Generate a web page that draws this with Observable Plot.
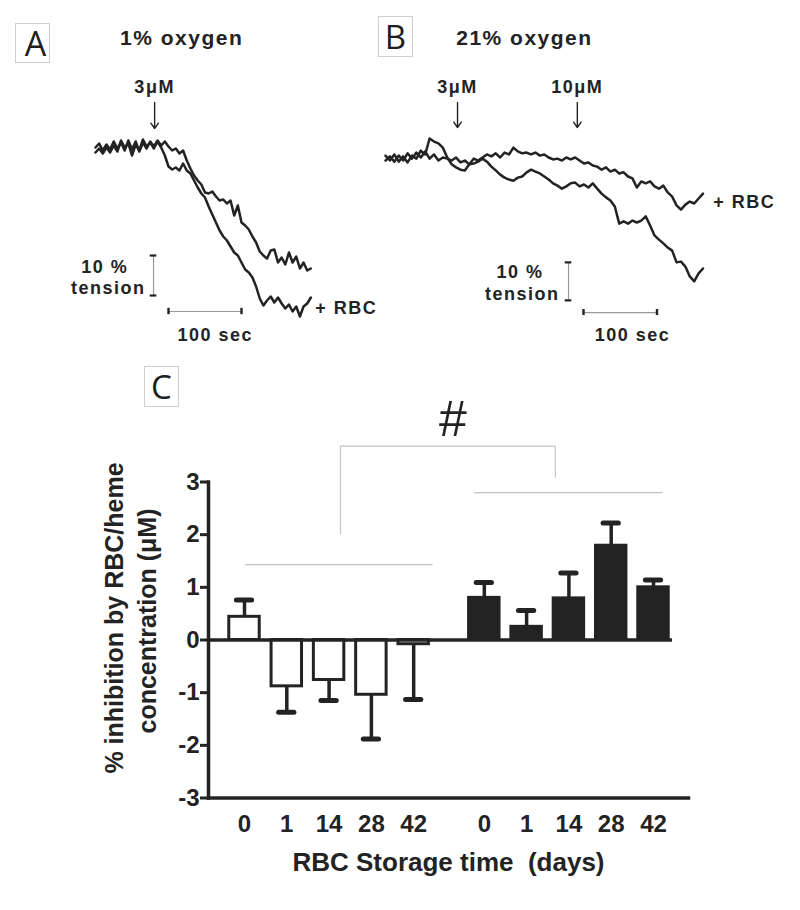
<!DOCTYPE html>
<html>
<head>
<meta charset="utf-8">
<script src="https://cdn.jsdelivr.net/npm/d3@7"></script>
<script src="https://cdn.jsdelivr.net/npm/@observablehq/plot@0.6"></script>
<style>
  body { margin: 0; background: #fff; }
  #root { position: relative; width: 800px; height: 910px; overflow: hidden; background: #fff; }
  .panel { position: absolute; }
  .panel svg { overflow: visible; }
  #pA text, #pB text { letter-spacing: 1.5px; }
  .lbl { position: absolute; border: 1px solid #cfcfcf; box-sizing: border-box;
         font-family: "Open Sans", sans-serif; color: #1e1e1e; text-align: center; }
</style>
</head>
<body>
<div id="root"></div>
<script>
// ---------------- DATA ----------------
// Panel A (1% oxygen): time (s), tension (% of initial)
const traceA_control = [[0,99.5],[5,100.5],[10,98.75],[15,100.25],[20,99],[25,101],[30,99.25],[35,100.75],[40,98.75],[45,101.25],[50,99],[55,101],[60,98.5],[65,100.75],[70,99.25],[75,101],[80,99.75],[85,101.25],[90,100],[95,101],[100,99.75],[105,98.75],[110,99.25],[115,98],[120,98.75],[125,96.25],[130,94.25],[135,92.5],[140,91.25],[145,90.25],[150,88.25],[155,88],[160,88.5],[165,87.25],[170,86.25],[175,86.5],[180,85.5],[185,86.25],[190,82.5],[195,85],[200,80.75],[205,80],[210,79],[215,77.25],[220,75.75],[225,73.5],[230,72.5],[235,71.75],[240,73.75],[245,74],[250,70.75],[255,72],[260,70.25],[265,73.25],[270,70.75],[275,72.25],[280,69.25],[285,70.75],[290,68.75],[295,69.25]];
const traceA_rbc = [[0,98.25],[5,99.25],[10,98],[15,99.5],[20,98.25],[25,100],[30,98.5],[35,101.25],[40,99.5],[45,100.5],[50,97.5],[55,100.25],[60,98.75],[65,101.5],[70,99.75],[75,100.75],[80,99.25],[85,101],[90,99.5],[95,97.5],[100,94.75],[105,94],[110,94.5],[115,93.75],[120,95.5],[125,93.75],[130,93],[135,91.25],[140,89.5],[145,88],[150,87],[155,84.75],[160,82.75],[165,80.75],[170,78.75],[175,77.25],[180,76.25],[185,74.75],[190,73.25],[195,72.5],[200,70.75],[205,69],[210,68.25],[215,67],[220,64.75],[225,61.75],[230,60],[235,61.25],[240,62.25],[245,60.75],[250,62],[255,60.5],[260,59.25],[265,60.25],[270,58.5],[275,59.75],[280,57.25],[285,59.75],[290,60.5],[295,62]];

// Panel B (21% oxygen)
const timeB = [0,6,12,18,24,30,36,42,48,54,60,66,72,78,84,90,96,102,108,114,120,126,132,138,144,150,156,162,168,174,180,186,192,198,204,210,216,222,228,234,240,246,252,258,264,270,276,282,288,294,300,306,312,318,324,330,336,342,348,354,360,366,372,378,384,390,396,402,408,414,420,426,432];
const tensionB_control = [100.5,99.2,100.8,98.9,100.3,98.7,100.5,99.7,101.8,100.8,105,104.2,103.7,102.6,100,98.2,97.4,96.8,96.6,98.2,98.4,98.9,99.7,98.9,97.6,96.6,95.5,94.7,94.2,93.9,94.7,95,96.1,96.8,96.3,95.8,95,94.2,93.2,92.6,91.8,92.4,93.2,93.4,92.4,92.9,92.1,93.2,91.8,90.5,89.5,88.7,87.1,82.6,83.2,82.6,83.4,82.9,83.4,84.5,82.1,79.5,78.4,77.4,76.3,75.5,72.4,72.6,71.3,68.7,67.4,69.5,70.8];
const tensionB_rbc = [99.2,100.3,98.9,100.5,99.2,101.1,99.7,101.3,100,101.6,99.7,100.8,99.2,100,99.7,99.2,100,98.7,99.2,98.2,99.7,99.2,100,100.8,100.3,101.1,100,101.3,100.8,102.6,101.6,101.1,101.3,100.8,101.3,100.5,100.8,100,99.5,99.7,99.2,100,99.5,100,99.2,98.4,98.7,97.9,97.6,96.8,97.4,96.3,96.8,95.8,96.1,95,94.5,92.1,93.7,93.2,93.7,92.4,91.8,92.6,90.8,89.7,87.4,86.3,87.6,88.4,87.9,89.2,90.5];

// Dose additions (time of addition, s)
const dosesA = [{label: "3μM", time: 81}];
const dosesB = [{label: "3μM", time: 98}, {label: "10μM", time: 261}];

// Panel C: % inhibition by RBC/heme concentration (μM), mean and SEM
const storageDays = ["0", "1", "14", "28", "42"];
const meansOpen = [0.44, -0.88, -0.76, -1.04, -0.08];
const semOpen = [0.32, 0.49, 0.39, 0.84, 1.05];
const meansFilled = [0.80, 0.25, 0.79, 1.79, 1.00];
const semFilled = [0.29, 0.31, 0.48, 0.43, 0.14];
const yTicksC = [-3, -2, -1, 0, 1, 2, 3];

// ---------------- STYLE ----------------
const ink = "#232323";
const FONT = "'Liberation Sans', Arial, sans-serif";
const root = document.getElementById("root");

function addPanel(id, left, top, svg) {
  const d = document.createElement("div");
  d.className = "panel"; d.id = id;
  d.style.left = left + "px"; d.style.top = top + "px";
  d.appendChild(svg); root.appendChild(d);
}
function addLabel(txt, left, top, w, h, fs, padLeft) {
  const d = document.createElement("div");
  d.className = "lbl"; d.textContent = txt;
  Object.assign(d.style, {left: left + "px", top: top + "px", width: w + "px", height: h + "px",
    fontSize: fs + "px", lineHeight: (h - 2) + "px", paddingLeft: (padLeft || 0) + "px"});
  root.appendChild(d);
}
const txt = (o) => Object.assign({fontFamily: FONT, fontWeight: "bold", fill: ink, fontSize: 18, lineAnchor: "middle"}, o);

// ---------------- PANEL A ----------------
const rowsA = [
  ...traceA_control.map(([t, v]) => ({t, v, s: "control"})),
  ...traceA_rbc.map(([t, v]) => ({t, v, s: "rbc"}))
];
const plotA = Plot.plot({
  width: 400, height: 360, margin: 0,
  x: {domain: [0, 300], range: [95, 314], axis: null},
  y: {domain: [50, 100], range: [345, 145], axis: null},
  marks: [
    Plot.line(rowsA, {x: "t", y: "v", z: "s", stroke: ink, strokeWidth: 2.5, strokeLinejoin: "round"}),
    Plot.text(["1% oxygen"], txt({x: () => 118, y: () => 126.75, text: d => d, fontSize: 21})),
    Plot.text(dosesA, txt({x: "time", y: () => 114.5, text: "label"})),
    Plot.arrow(dosesA, {x1: "time", x2: "time", y1: () => 110.75, y2: () => 104.25, stroke: ink, strokeWidth: 1.4, headLength: 7, headAngle: 70}),
    Plot.ruleX([79.5], {y1: 62.5, y2: 72.5, stroke: "#999", strokeWidth: 1.2}),
    Plot.ruleY([62.5, 72.5], {x1: 75, x2: 84, stroke: ink, strokeWidth: 2.2}),
    Plot.ruleY([58.5], {x1: 100, x2: 200, stroke: "#999", strokeWidth: 1.2}),
    Plot.ruleX([100, 200], {y1: 57.7, y2: 59.3, stroke: ink, strokeWidth: 2.4}),
    Plot.text(["10 %"], txt({x: () => 45, y: () => 69.5, text: d => d, textAnchor: "end"})),
    Plot.text(["tension"], txt({x: () => 68.5, y: () => 64.25, text: d => d, textAnchor: "end"})),
    Plot.text(["100 sec"], txt({x: () => 164, y: () => 52.5, text: d => d})),
    Plot.text(["+ RBC"], txt({x: () => 301, y: () => 59.25, text: d => d, textAnchor: "start"}))
  ]
});
addPanel("pA", 0, 0, plotA);

// ---------------- PANEL B ----------------
const rowsB = [
  ...timeB.map((t, i) => ({t, v: tensionB_control[i], s: "control"})),
  ...timeB.map((t, i) => ({t, v: tensionB_rbc[i], s: "rbc"}))
];
const plotB = Plot.plot({
  width: 430, height: 360, margin: 0,
  x: {domain: [0, 440], range: [15, 338.4], axis: null},
  y: {domain: [50, 100], range: [347, 157], axis: null},
  marks: [
    Plot.line(rowsB, {x: "t", y: "v", z: "s", stroke: ink, strokeWidth: 2.5, strokeLinejoin: "round"}),
    Plot.text(["21% oxygen"], txt({x: () => 189, y: () => 131.3, text: d => d, fontSize: 21})),
    Plot.text(dosesB, txt({x: "time", y: () => 118.4, text: "label"})),
    Plot.arrow(dosesB, {x1: "time", x2: "time", y1: () => 114.5, y2: () => 107.9, stroke: ink, strokeWidth: 1.4, headLength: 7, headAngle: 70}),
    Plot.ruleX([249], {y1: 62.4, y2: 72.4, stroke: "#999", strokeWidth: 1.2}),
    Plot.ruleY([62.4, 72.4], {x1: 244.5, x2: 253.5, stroke: ink, strokeWidth: 2.2}),
    Plot.ruleY([59.2], {x1: 269.4, x2: 369.4, stroke: "#999", strokeWidth: 1.2}),
    Plot.ruleX([269.4, 369.4], {y1: 58.4, y2: 60, stroke: ink, strokeWidth: 2.4}),
    Plot.text(["10 %"], txt({x: () => 215, y: () => 69.7, text: d => d, textAnchor: "end"})),
    Plot.text(["tension"], txt({x: () => 236.7, y: () => 63.9, text: d => d, textAnchor: "end"})),
    Plot.text(["100 sec"], txt({x: () => 336, y: () => 53.2, text: d => d})),
    Plot.text(["+ RBC"], txt({x: () => 446, y: () => 88.2, text: d => d, textAnchor: "start"}))
  ]
});
addPanel("pB", 370, 0, plotB);

// ---------------- PANEL C ----------------
const groupGap = 5.67;
const bars = [];
storageDays.forEach((day, i) => bars.push({group: 0, day, pos: i, mean: meansOpen[i], sem: semOpen[i]}));
storageDays.forEach((day, i) => bars.push({group: 1, day, pos: i + groupGap, mean: meansFilled[i], sem: semFilled[i]}));
bars.forEach(b => { b.end = b.mean + (b.mean >= 0.05 ? 1 : -1) * b.sem; });
const halfW = 0.36, capW = 0.18;
const groupBrackets = [{x1: 0.02, x2: 4.46, y: 1.43}, {x1: 5.44, x2: 9.9, y: 2.8}];
const sigBracket = [{x: 2.27, y: 2.02}, {x: 2.27, y: 3.68}, {x: 7.35, y: 3.68}, {x: 7.35, y: 3.09}];

const plotC = Plot.plot({
  width: 800, height: 550,
  marginLeft: 208, marginRight: 112, marginTop: 121.5, marginBottom: 112.5,
  x: {domain: [0, 9.67], range: [244, 653], axis: null},
  y: {domain: [-3, 3], axis: null},
  style: {fontFamily: FONT, fontWeight: "bold", fontSize: "24px", color: ink, background: "transparent"},
  marks: [
    Plot.ruleY(groupBrackets, {y: "y", x1: "x1", x2: "x2", stroke: "#c4c4c4", strokeWidth: 1.2}),
    Plot.line(sigBracket, {x: "x", y: "y", stroke: "#c4c4c4", strokeWidth: 1.2}),
    Plot.text(["#"], {x: () => (2.27 + 7.35) / 2, y: () => 4.17, text: d => d, dx: 5, fontSize: 50, fontWeight: "normal", fontFamily: FONT, fill: ink, lineAnchor: "middle"}),
    Plot.ruleX(bars, {x: "pos", y1: "mean", y2: "end", stroke: ink, strokeWidth: 3.5}),
    Plot.ruleY(bars, {y: "end", x1: d => d.pos - capW, x2: d => d.pos + capW, stroke: ink, strokeWidth: 5, strokeLinecap: "round"}),
    Plot.rect(bars, {x1: d => d.pos - halfW, x2: d => d.pos + halfW, y1: () => 0, y2: "mean",
      fill: d => d.group ? ink : "#fff", stroke: ink, strokeWidth: 3}),
    Plot.ruleY([0], {x1: () => -0.85, x2: () => 10.12, stroke: ink, strokeWidth: 3.5}),
    Plot.frame({anchor: "left", stroke: ink, strokeWidth: 3.5}),
    Plot.frame({anchor: "bottom", stroke: ink, strokeWidth: 3.5}),
    Plot.axisY({ticks: yTicksC, tickFormat: d => String(d), tickSize: 8, tickPadding: 1, strokeWidth: 3, stroke: ink, label: null, fill: ink}),
    Plot.text(bars, {x: "pos", y: () => -3, text: "day", dy: 26, lineAnchor: "middle", fill: ink}),
    Plot.text(["RBC Storage time  (days)"], {frameAnchor: "bottom", text: d => d, dy: 64.5, fontSize: 26, lineAnchor: "middle", textAnchor: "middle", fill: ink}),
    Plot.text(["% inhibition by RBC/heme"], {frameAnchor: "left", text: d => d, rotate: -90, dx: -94, dy: -22, fontSize: 25, lineAnchor: "middle", textAnchor: "middle", fill: ink}),
    Plot.text(["concentration (μM)"], {frameAnchor: "left", text: d => d, rotate: -90, dx: -61, dy: -19, fontSize: 25, lineAnchor: "middle", textAnchor: "middle", fill: ink})
  ]
});
addPanel("pC", 0, 360, plotC);

// panel letters
addLabel("A", 15, 23, 35, 40, 34, 6);
addLabel("B", 378, 16, 35, 41, 33, 0);
addLabel("C", 144, 366, 35, 41, 33, 0);
</script>
</body>
</html>
